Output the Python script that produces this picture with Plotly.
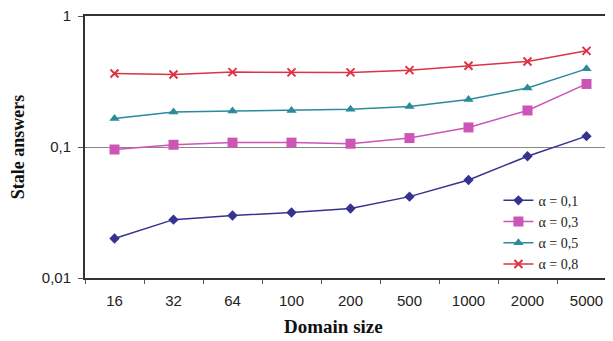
import plotly.graph_objects as go

domain_sizes = ["16", "32", "64", "100", "200", "500", "1000", "2000", "5000"]
alpha_01 = [0.020, 0.0279, 0.030, 0.0316, 0.0339, 0.0418, 0.056, 0.085, 0.121]
alpha_03 = [0.0957, 0.104, 0.108, 0.108, 0.106, 0.117, 0.141, 0.19, 0.303]
alpha_05 = [0.165, 0.185, 0.188, 0.19, 0.194, 0.204, 0.23, 0.282, 0.395]
alpha_08 = [0.364, 0.358, 0.373, 0.371, 0.371, 0.386, 0.417, 0.45, 0.542]
series_names = ["α = 0,1", "α = 0,3", "α = 0,5", "α = 0,8"]
y_tick_vals = [0.01, 0.1, 1]
y_tick_text = ["0,01", "0,1", "1"]

colors = ["#35338f", "#cc55b5", "#2b8a9b", "#dd3344"]
symbols = ["diamond", "square", "triangle-up", "x-thin"]
sizes = [8, 10, 9, 8]

fig = go.Figure()
for name, vals, c, s, sz in zip(series_names, [alpha_01, alpha_03, alpha_05, alpha_08], colors, symbols, sizes):
    marker = dict(symbol=s, size=sz, color=c)
    if s == "x-thin":
        marker["line"] = dict(color=c, width=2)
    fig.add_trace(go.Scatter(x=domain_sizes, y=vals, name=name, mode="lines+markers",
                             line=dict(color=c, width=1.5), marker=marker))

# The page body adds an 8px offset, so the figure is sized to fill the rest of the window.
fig.update_layout(
    width=605, height=333, autosize=False,
    margin=dict(l=77, r=0, t=8, b=63),
    paper_bgcolor="white", plot_bgcolor="white",
    font=dict(family="Liberation Sans", size=15, color="#222"),
    showlegend=True,
    legend=dict(x=0.783, y=0.356, xanchor="left", yanchor="top",
                font=dict(family="Liberation Serif", size=14, color="#222"),
                bgcolor="rgba(0,0,0,0)", itemwidth=30,
                tracegroupgap=0),
    annotations=[dict(text="<b>Domain size</b>", xref="paper", yref="paper",
                      x=0.47, y=-0.185, xanchor="center", yanchor="middle", showarrow=False,
                      font=dict(family="Liberation Serif", size=19, color="#111"))],
)
fig.update_xaxes(
    type="category", range=[-0.5, -0.5 + 528 / 59],
    showline=True, linecolor="#333", linewidth=2, mirror=True,
    ticks="outside", tickson="boundaries", ticklen=4, tickcolor="#555",
    showgrid=False, ticklabelstandoff=8,
    tickfont=dict(family="Liberation Sans", size=15, color="#222"),
)
fig.update_yaxes(
    type="log", range=[-2, 0],
    tickvals=y_tick_vals, ticktext=y_tick_text,
    showline=True, linecolor="#333", linewidth=2,
    ticks="outside", ticklen=5, tickcolor="#555",
    showgrid=True, gridcolor="#888", gridwidth=1,
    zeroline=False, ticklabelstandoff=4, ticklabeloverflow="allow",
    title=dict(text="<b>Stale answers</b>", font=dict(family="Liberation Serif", size=18, color="#111"), standoff=12),
    tickfont=dict(family="Liberation Sans", size=15, color="#222"),
)

fig.write_html("out.html")
